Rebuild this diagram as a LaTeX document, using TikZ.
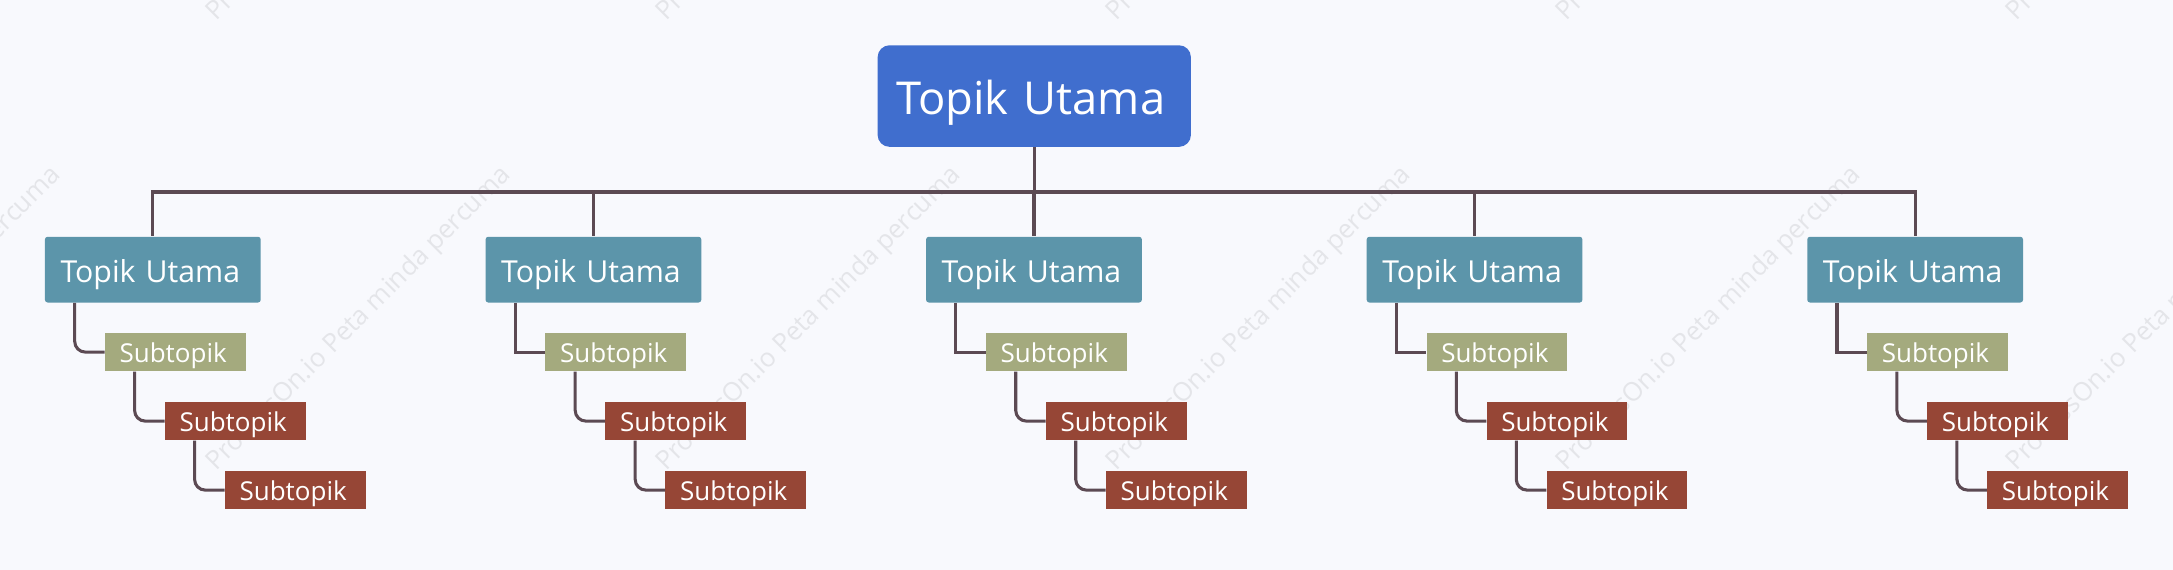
\documentclass[tikz,border=0pt]{standalone}
\usepackage{fontspec}
\setmainfont{Open Sans}
\usetikzlibrary{calc}
\definecolor{pagebg}{HTML}{F8F9FD}
\definecolor{rootblue}{HTML}{406ECE}
\definecolor{topteal}{HTML}{5C95AA}
\definecolor{subolive}{HTML}{A4AA7E}
\definecolor{subred}{HTML}{964636}
\definecolor{linkgrey}{HTML}{5C4A53}
\definecolor{markgrey}{HTML}{E4E5E9}
\tikzset{
  rootbox/.style={fill=rootblue,text=white,rounded corners=9pt,inner xsep=14pt,inner ysep=0pt,
    text width=207pt,text height=51.7pt,text depth=24.5pt,font=\fontsize{34}{40}\selectfont},
  topbox/.style={fill=topteal,text=white,rounded corners=2pt,inner xsep=11.7pt,inner ysep=0pt,
    text width=138.4pt,text height=34.3pt,text depth=15pt,font=\fontsize{22.7}{28}\selectfont},
  subbox/.style={text=white,inner xsep=11pt,inner ysep=0pt,
    text width=83.5pt,text height=22.3pt,text depth=6.7pt,font=\fontsize{19.5}{24}\selectfont},
  link/.style={draw=linkgrey,line width=2.3pt},
  linkround/.style={link,rounded corners=8pt},
  markbox/.style={text=markgrey,rotate=45,anchor=base west,inner sep=0pt,font=\fontsize{19.5}{24}\selectfont}
}
\begin{document}
\begin{tikzpicture}[x=.75pt,y=-.75pt]
  \fill[pagebg] (0,0) rectangle (2173,570);
  \useasboundingbox (0,0) rectangle (2173,570);

  % watermark
  \foreach \k [count=\m] in {-1,0,1,2,3,4}
  {
    \node[markbox] (marka\m) at (216+450*\k,22) {ProcessOn.io Peta minda percuma};
    \node[markbox] (markb\m) at (216+450*\k,472) {ProcessOn.io Peta minda percuma};
  }

  \node[rootbox,anchor=north west] (root) at (877.33,45) {Topik Utama};
  \coordinate (rail) at (root.south |- 0,192);

  \foreach \i/\x/\bend in {1/45/linkround,2/485.6/link,3/926.13/link,4/1366.7/link,5/1807.3/link}
  {
    \node[topbox,anchor=north west] (top\i) at (\x-.3,236.5) {Topik Utama};
    \node[subbox,fill=subolive,anchor=north west] (suba\i) at (\x+59.6,332.5) {Subtopik};
    \node[subbox,fill=subred,anchor=north west] (subb\i) at (\x+119.6,401.5) {Subtopik};
    \node[subbox,fill=subred,anchor=north west] (subc\i) at (\x+179.6,470.5) {Subtopik};

    \draw[link] (rail) -| (top\i.north);
    \draw[\bend] ($(top\i.south west)+(30,0)$) |- (suba\i.west);
    \draw[linkround] ($(suba\i.south west)+(30,0)$) |- (subb\i.west);
    \draw[linkround] ($(subb\i.south west)+(30,0)$) |- (subc\i.west);
  }
  \draw[link] (root.south) -- (rail);
\end{tikzpicture}
\end{document}
